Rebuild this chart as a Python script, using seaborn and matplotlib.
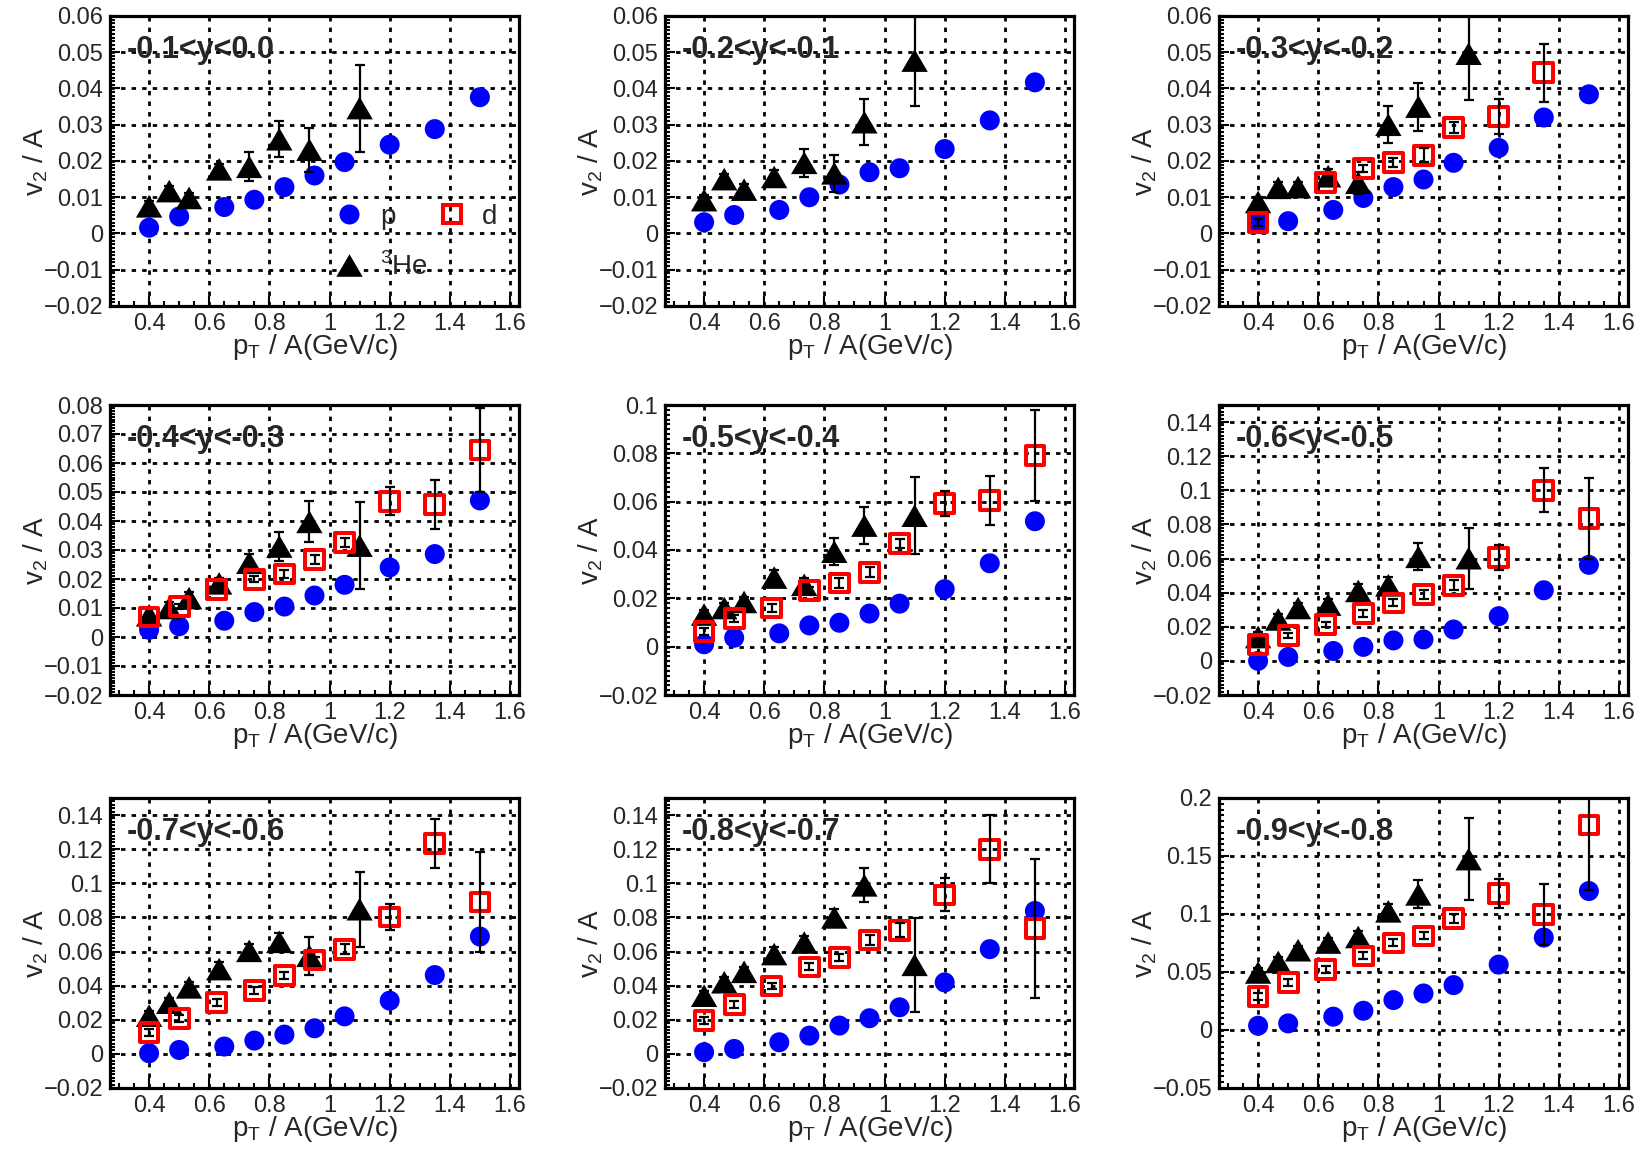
import numpy as np
import pandas as pd
import matplotlib
matplotlib.use("Agg")
import matplotlib.pyplot as plt
import seaborn as sns
from matplotlib.ticker import MultipleLocator, FuncFormatter
from matplotlib.lines import Line2D

# ---------------- data ----------------
PT_P = [0.4, 0.5, 0.65, 0.75, 0.85, 0.95, 1.05, 1.2, 1.35, 1.5]
PT_D = [0.4, 0.5, 0.625, 0.75, 0.85, 0.95, 1.05, 1.2, 1.35, 1.5]
PT_HE = [0.4, 0.467, 0.533, 0.633, 0.733, 0.833, 0.933, 1.1]

Y_LABELS = ["-0.1<y<0.0", "-0.2<y<-0.1", "-0.3<y<-0.2",
            "-0.4<y<-0.3", "-0.5<y<-0.4", "-0.6<y<-0.5",
            "-0.7<y<-0.6", "-0.8<y<-0.7", "-0.9<y<-0.8"]
Y_LIMS = [(-0.02, 0.06), (-0.02, 0.06), (-0.02, 0.06),
          (-0.02, 0.08), (-0.02, 0.10), (-0.02, 0.15),
          (-0.02, 0.15), (-0.02, 0.15), (-0.05, 0.20)]
Y_MAJOR = [0.01, 0.01, 0.01, 0.01, 0.02, 0.02, 0.02, 0.02, 0.05]

P_V2 = [
    [0.0016, 0.0047, 0.0073, 0.0093, 0.0128, 0.0160, 0.0197, 0.0245, 0.0288, 0.0376],
    [0.0031, 0.0051, 0.0065, 0.0100, 0.0135, 0.0169, 0.0180, 0.0233, 0.0312, 0.0417],
    [0.0031, 0.0034, 0.0065, 0.0098, 0.0128, 0.0149, 0.0195, 0.0236, 0.0320, 0.0384],
    [0.0025, 0.0037, 0.0056, 0.0086, 0.0105, 0.0143, 0.0180, 0.0240, 0.0286, 0.0471],
    [0.0010, 0.0037, 0.0055, 0.0088, 0.0099, 0.0137, 0.0178, 0.0238, 0.0345, 0.0519],
    [0.0000, 0.0023, 0.0058, 0.0082, 0.0120, 0.0126, 0.0184, 0.0262, 0.0414, 0.0563],
    [0.0004, 0.0023, 0.0043, 0.0078, 0.0113, 0.0150, 0.0220, 0.0312, 0.0462, 0.0688],
    [0.0010, 0.0029, 0.0068, 0.0107, 0.0166, 0.0209, 0.0273, 0.0419, 0.0614, 0.0838],
    [0.0037, 0.0057, 0.0115, 0.0166, 0.0258, 0.0315, 0.0387, 0.0564, 0.0797, 0.1198],
]

N = None
D_V2 = [
    [N] * 10,
    [N] * 10,
    [0.0031, N, 0.0140, 0.0180, 0.0196, 0.0216, 0.0293, 0.0323, 0.0444, N],
    [0.0069, 0.0105, 0.0165, 0.0199, 0.0217, 0.0268, 0.0325, 0.0468, 0.0456, 0.0645],
    [0.0064, 0.0116, 0.0160, 0.0233, 0.0263, 0.0308, 0.0427, 0.0592, 0.0605, 0.0790],
    [0.0097, 0.0150, 0.0214, 0.0278, 0.0340, 0.0388, 0.0443, 0.0608, 0.1000, 0.0835],
    [0.0127, 0.0209, 0.0302, 0.0370, 0.0458, 0.0550, 0.0614, 0.0803, 0.1232, 0.0891],
    [0.0195, 0.0290, 0.0398, 0.0510, 0.0565, 0.0667, 0.0725, 0.0932, 0.1199, 0.0735],
    [0.0287, 0.0407, 0.0524, 0.0639, 0.0751, 0.0811, 0.0960, 0.1175, 0.0997, 0.1768],
]
D_ERR = [
    [N] * 10,
    [N] * 10,
    [0.0010, N, 0.0010, 0.0010, 0.0012, 0.0020, 0.0015, 0.0048, 0.0080, N],
    [0.0010, 0.0010, 0.0010, 0.0010, 0.0015, 0.0015, 0.0015, 0.0049, 0.0084, 0.0144],
    [0.0015, 0.0015, 0.0015, 0.0015, 0.0020, 0.0020, 0.0020, 0.0053, 0.0102, 0.0188],
    [0.0015, 0.0015, 0.0015, 0.0020, 0.0020, 0.0025, 0.0030, 0.0073, 0.0130, 0.0238],
    [0.0020, 0.0020, 0.0020, 0.0020, 0.0020, 0.0020, 0.0030, 0.0078, 0.0144, 0.0295],
    [0.0020, 0.0020, 0.0020, 0.0020, 0.0020, 0.0030, 0.0040, 0.0097, 0.0200, 0.0406],
    [0.0030, 0.0030, 0.0030, 0.0030, 0.0030, 0.0030, 0.0040, 0.0126, 0.0260, 0.0558],
]

HE_V2 = [
    [0.0075, 0.0117, 0.0098, 0.0177, 0.0184, 0.0260, 0.0231, 0.0346],
    [0.0092, 0.0150, 0.0121, 0.0156, 0.0195, 0.0166, 0.0307, 0.0477],
    [0.0087, 0.0126, 0.0128, 0.0158, 0.0140, 0.0300, 0.0350, 0.0496],
    [0.0075, 0.0100, 0.0134, 0.0185, 0.0256, 0.0312, 0.0397, 0.0315],
    [0.0133, 0.0160, 0.0185, 0.0286, 0.0256, 0.0393, 0.0501, 0.0542],
    [0.0140, 0.0243, 0.0310, 0.0330, 0.0410, 0.0443, 0.0610, 0.0602],
    [0.0224, 0.0300, 0.0390, 0.0497, 0.0604, 0.0657, 0.0575, 0.0848],
    [0.0341, 0.0420, 0.0481, 0.0585, 0.0653, 0.0800, 0.0988, 0.0522],
    [0.0496, 0.0587, 0.0688, 0.0754, 0.0802, 0.1023, 0.1169, 0.1473],
]
HE_ERR = [
    [0.0015, 0.0015, 0.0015, 0.0015, 0.0040, 0.0050, 0.0060, 0.0120],
    [0.0015, 0.0015, 0.0015, 0.0020, 0.0038, 0.0051, 0.0064, 0.0124],
    [0.0015, 0.0015, 0.0015, 0.0020, 0.0030, 0.0051, 0.0066, 0.0128],
    [0.0020, 0.0020, 0.0020, 0.0020, 0.0030, 0.0050, 0.0071, 0.0149],
    [0.0020, 0.0020, 0.0020, 0.0030, 0.0030, 0.0055, 0.0077, 0.0160],
    [0.0030, 0.0030, 0.0030, 0.0030, 0.0040, 0.0050, 0.0080, 0.0178],
    [0.0030, 0.0030, 0.0030, 0.0040, 0.0040, 0.0050, 0.0110, 0.0220],
    [0.0030, 0.0030, 0.0030, 0.0040, 0.0040, 0.0050, 0.0100, 0.0274],
    [0.0040, 0.0040, 0.0040, 0.0040, 0.0050, 0.0060, 0.0120, 0.0355],
]

# ---------------- style ----------------
sns.set_style("white")
plt.rcParams["font.family"] = ["Liberation Sans", "DejaVu Sans"]
plt.rcParams["mathtext.fontset"] = "custom"
plt.rcParams["mathtext.rm"] = "Liberation Sans"
plt.rcParams["axes.unicode_minus"] = True

BLUE = "#0000ff"
RED = "#ff0000"
TRI = [(0.0, 0.857), (-1.0, -0.857), (1.0, -0.857), (0.0, 0.857)]
MS_P, MS_HE, MS_D = 14.4, 19.0, 13.5

W, H = 1636, 1156
fig = plt.figure(figsize=(W / 100, H / 100), dpi=100)
fig.patch.set_facecolor("white")

COL_L = [110, 665, 1219]
ROW_T = [16, 405, 798]
AX_W, AX_H = 409, 290


def fmt(v, pos):
    v = round(v, 6)
    if v == 0:
        return "0"
    return f"{v:g}".replace("-", "\u2212")


for i in range(9):
    r, c = divmod(i, 3)
    ax = fig.add_axes([COL_L[c] / W, 1 - (ROW_T[r] + AX_H) / H, AX_W / W, AX_H / H])
    ax.set_facecolor("white")

    dfp = pd.DataFrame({"pt": PT_P, "v2": P_V2[i]})
    sns.scatterplot(data=dfp, x="pt", y="v2", ax=ax, marker="o", s=MS_P ** 2,
                    color=BLUE, edgecolor="none", linewidth=0, zorder=3, legend=False)

    dfh = pd.DataFrame({"pt": PT_HE, "v2": HE_V2[i], "err": HE_ERR[i]})
    sns.scatterplot(data=dfh, x="pt", y="v2", ax=ax, marker=TRI, s=MS_HE ** 2,
                    color="black", edgecolor="none", linewidth=0, zorder=4, legend=False)
    ax.errorbar(dfh["pt"], dfh["v2"], yerr=dfh["err"], fmt="none", ecolor="black",
                elinewidth=1.6, capsize=3.7, capthick=1.6, zorder=5)

    dfd = pd.DataFrame({"pt": PT_D, "v2": D_V2[i], "err": D_ERR[i]}).dropna()
    if len(dfd):
        sns.scatterplot(data=dfd, x="pt", y="v2", ax=ax, marker="s", s=MS_D ** 2,
                        color=RED, zorder=6, legend=False)
        coll = ax.collections[-1]
        coll.set_facecolor("none")
        coll.set_edgecolor(RED)
        coll.set_linewidth(2.9)
        ax.errorbar(dfd["pt"].astype(float), dfd["v2"].astype(float),
                    yerr=dfd["err"].astype(float), fmt="none", ecolor="black",
                    elinewidth=1.6, capsize=3.7, capthick=1.6, zorder=7)

    ax.set_xlim(0.27, 1.63)
    ax.set_ylim(*Y_LIMS[i])
    ax.xaxis.set_major_locator(MultipleLocator(0.2))
    ax.xaxis.set_minor_locator(MultipleLocator(0.05))
    ax.yaxis.set_major_locator(MultipleLocator(Y_MAJOR[i]))
    ax.yaxis.set_minor_locator(MultipleLocator(Y_MAJOR[i] / 10))
    ax.xaxis.set_major_formatter(FuncFormatter(fmt))
    ax.yaxis.set_major_formatter(FuncFormatter(fmt))

    ax.grid(True, which="major", color="black", linestyle=(0, (1.6, 2.2)), linewidth=2.0)
    ax.set_axisbelow(True)
    ax.tick_params(which="both", direction="in", color="black", width=1.5,
                   top=False, right=False, left=True, bottom=True)
    ax.tick_params(which="major", length=7, labelsize=17, pad=5)
    ax.tick_params(which="minor", length=3.5)
    for sp in ax.spines.values():
        sp.set_visible(True)
        sp.set_color("black")
        sp.set_linewidth(2.3)
        sp.set_zorder(10)

    ax.set_xlabel(r"p$_\mathregular{T}$ / A(GeV/c)", fontsize=20, va="baseline")
    ax.xaxis.set_label_coords(0.5, -0.166)
    ax.set_ylabel(r"v$_\mathregular{2}$ / A", fontsize=20, va="baseline")
    ax.yaxis.set_label_coords(-0.163, 0.5)

    ax.text(0.04, 0.883, Y_LABELS[i], transform=ax.transAxes, fontsize=22,
            fontweight="bold", ha="left", va="center", zorder=8)

    if i == 0:
        handles = [
            Line2D([], [], ls="none", marker="o", markersize=MS_P, color=BLUE, markeredgewidth=0),
            Line2D([], [], ls="none", marker=TRI, markersize=MS_HE, color="black", markeredgewidth=0),
            Line2D([], [], ls="none", marker="s", markersize=MS_D, markerfacecolor="none",
                   markeredgecolor=RED, markeredgewidth=2.9),
        ]
        ax.legend(handles, ["p", r"$^\mathregular{3}$He", "d"], ncol=2, frameon=False,
                  fontsize=20, handlelength=1.0, handletextpad=0.6, columnspacing=0.35,
                  labelspacing=0.8, loc="center left", bbox_to_anchor=(0.49, 0.22))

fig.savefig("out.png", dpi=100, facecolor="white")
